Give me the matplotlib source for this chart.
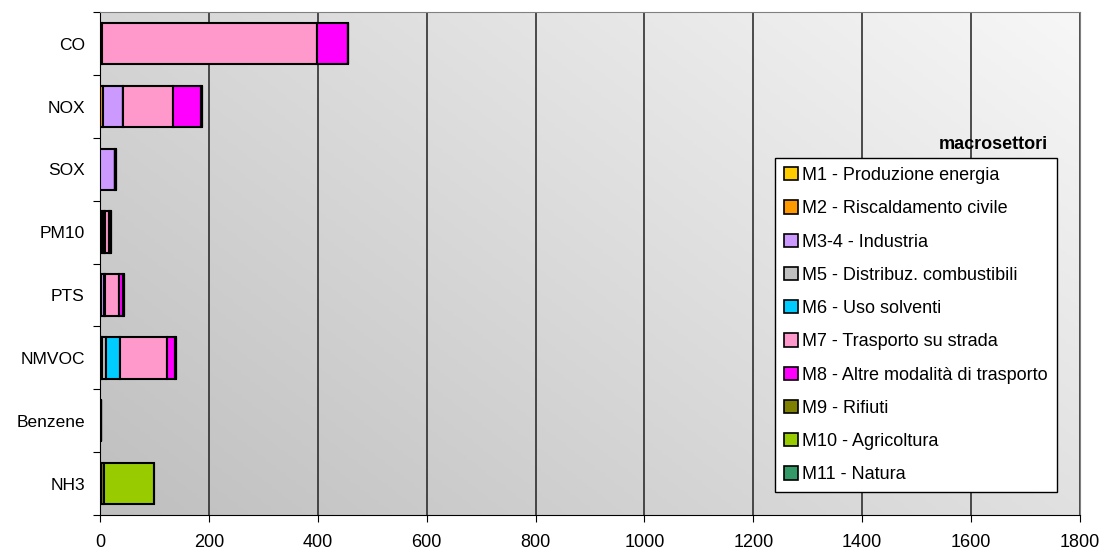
import matplotlib
matplotlib.use("Agg")
import matplotlib.pyplot as plt
import numpy as np

plt.rcParams['font.family'] = ['Liberation Sans', 'DejaVu Sans']

inquinanti = ['CO', 'NOX', 'SOX', 'PM10', 'PTS', 'NMVOC', 'Benzene', 'NH3']
settori = ['M1 - Produzione energia', 'M2 - Riscaldamento civile', 'M3-4 - Industria',
           'M5 - Distribuz. combustibili', 'M6 - Uso solventi', 'M7 - Trasporto su strada',
           'M8 - Altre modalità di trasporto', 'M9 - Rifiuti', 'M10 - Agricoltura', 'M11 - Natura']
colori = ['#FFCC00', '#FF9900', '#CC99FF', '#C0C0C0', '#00CCFF', '#FF99CC',
          '#FF00FF', '#808000', '#99CC00', '#339966']

# valori stimati per macrosettore (righe = settori, colonne = inquinanti)
M1 = [0, 0, 0, 0, 0, 0, 0, 0]
M2 = [3, 6, 0, 3, 2, 1, 0, 0]
M34 = [0, 36, 28, 4, 5, 3, 0, 0]
M5 = [0, 0, 0, 1, 2, 7, 0, 0]
M6 = [0, 0, 0, 1, 0, 26, 0, 0]
M7 = [395, 92, 0, 7, 26, 86, 2, 2]
M8 = [57, 51, 0, 3, 7, 15, 0, 0]
M9 = [0, 2, 2, 1, 2, 1, 0, 6]
M10 = [0, 0, 0, 0, 0, 0, 0, 91]
M11 = [0, 0, 0, 0, 0, 0, 0, 0]
valori = [M1, M2, M34, M5, M6, M7, M8, M9, M10, M11]

fig = plt.figure(figsize=(11.08, 5.56), dpi=100)
ax = fig.add_axes([0.0903, 0.0737, 0.8844, 0.9043])

# sfondo sfumato
xx, yy = np.meshgrid(np.linspace(0, 1, 200), np.linspace(0, 1, 200))
grad = 0.6 * xx + 0.4 * yy
ax.imshow(grad, extent=[0, 1, 0, 1], transform=ax.transAxes, aspect='auto',
          cmap=matplotlib.colors.LinearSegmentedColormap.from_list('g', ['#bfbfbf', '#f7f7f7']),
          origin='lower', zorder=0)

y = np.arange(len(inquinanti))
left = np.zeros(len(inquinanti))
for nome, col, v in zip(settori, colori, valori):
    v = np.array(v, dtype=float)
    ax.barh(y, v, left=left, height=0.66, color=col, edgecolor='black',
            linewidth=1.5, label=nome, zorder=3)
    left += v

ax.set_xlim(0, 1800)
ax.set_ylim(len(inquinanti) - 0.5, -0.5)
ax.set_xticks(np.arange(0, 1801, 200))
ax.set_yticks(np.arange(len(inquinanti) + 1) - 0.5, minor=False)
ax.set_yticklabels([])
ax.set_yticks(y, minor=True)
ax.set_yticklabels(inquinanti, minor=True)
ax.tick_params(axis='y', which='minor', length=0, labelsize=12.5, pad=11)
ax.tick_params(axis='y', which='major', length=5, direction='out')
ax.tick_params(axis='x', length=5, direction='out', labelsize=13, pad=9)
ax.grid(axis='x', color='#202020', linewidth=1.1, zorder=1)
ax.set_axisbelow(True)

for s in ['top', 'right']:
    ax.spines[s].set_color('#808080')
for s in ['left', 'bottom']:
    ax.spines[s].set_color('black')

leg = ax.legend(loc='upper left', bbox_to_anchor=(0.689, 0.710), borderaxespad=0,
                fancybox=False, frameon=True, edgecolor='black', fontsize=13,
                labelspacing=0.9, handlelength=0.75, handleheight=0.75,
                handletextpad=0.25, borderpad=0.5)
leg.get_frame().set_linewidth(1.0)
leg.get_frame().set_alpha(1)
for h in leg.legend_handles:
    h.set_linewidth(1.2)
fig.text(1048 / 1108, 1 - 145 / 556, 'macrosettori', ha='right', va='center',
         fontsize=13, fontweight='bold')

fig.savefig('out.png', dpi=100)
